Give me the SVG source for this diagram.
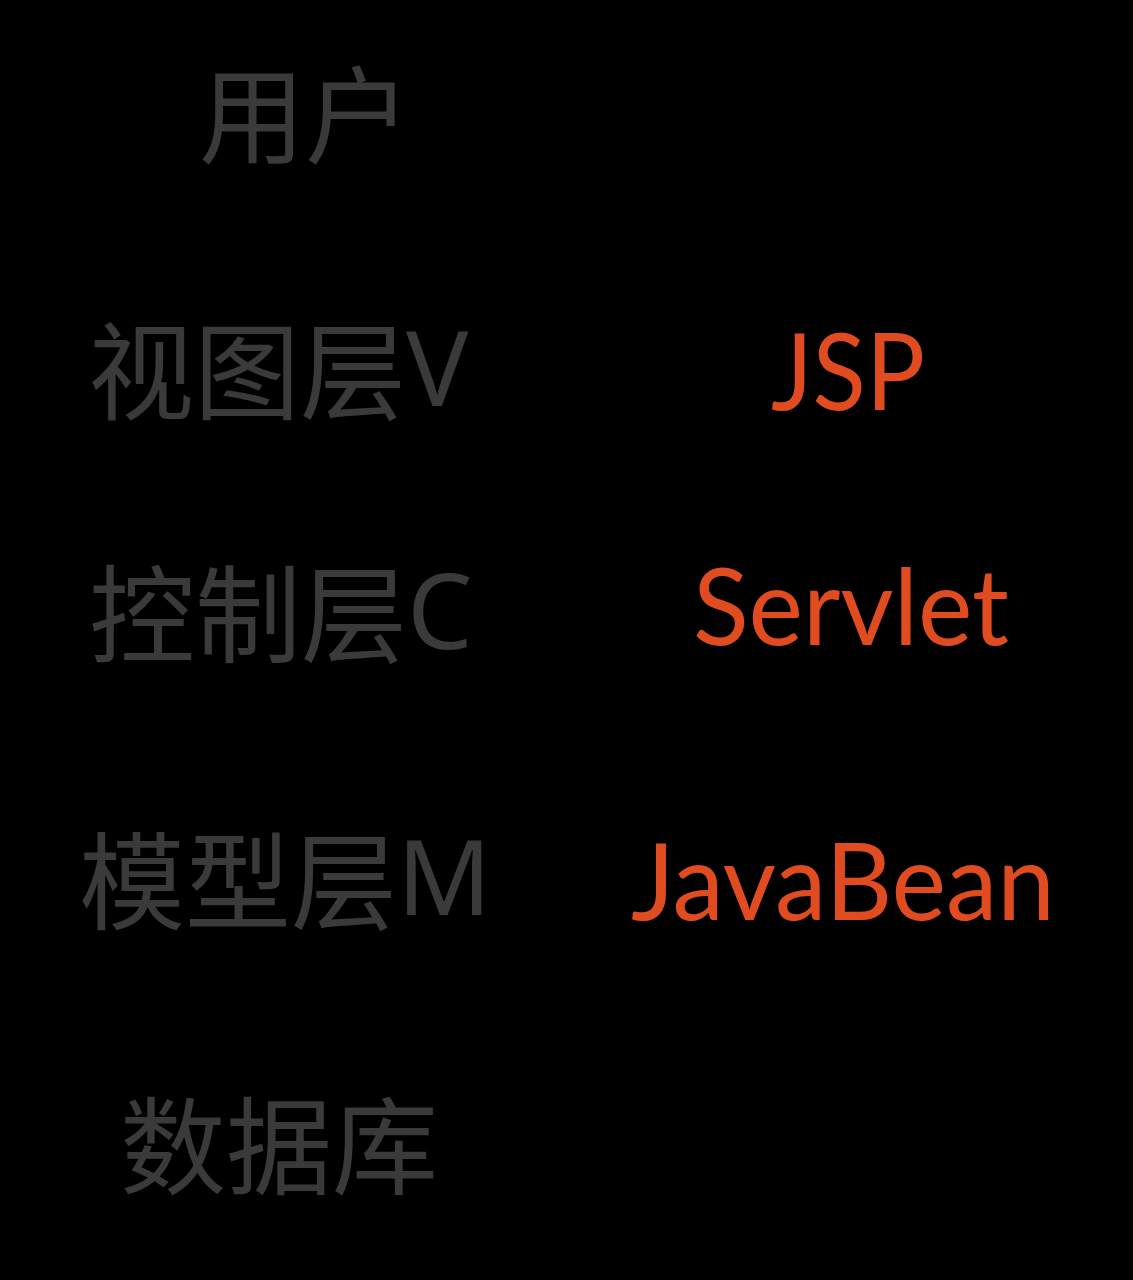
<svg xmlns="http://www.w3.org/2000/svg" width="1133" height="1280" viewBox="0 0 1133 1280">
<style>
.cn{font-family:"Noto Sans CJK SC","Noto Sans",sans-serif;font-size:106px;fill:#3a3a3a}
.lat{font-family:"Noto Sans","Open Sans",sans-serif;font-size:104px}
.en{font-family:Lato,"Noto Sans",sans-serif;font-size:106px;fill:#e04b20}
</style>
<rect width="1133" height="1280" fill="#000"/>
<g id="user"><text class="cn" x="199" y="155">用户</text></g>
<g id="view"><text class="cn" x="88" y="411">视图层<tspan class="lat" y="406">V</tspan></text></g>
<g id="jsp"><text class="en" x="771" y="410" textLength="154" lengthAdjust="spacingAndGlyphs">JSP</text></g>
<g id="ctrl"><text class="cn" x="89" y="654">控制层<tspan class="lat" y="649">C</tspan></text></g>
<g id="servlet"><text class="en" x="693" y="645" textLength="316" lengthAdjust="spacingAndGlyphs">Servlet</text></g>
<g id="model"><text class="cn" x="79" y="921">模型层<tspan class="lat" y="915">M</tspan></text></g>
<g id="javabean"><text class="en" x="631" y="920" textLength="424" lengthAdjust="spacingAndGlyphs">JavaBean</text></g>
<g id="db"><text class="cn" x="120" y="1186">数据库</text></g>
<g id="connectors"></g>
</svg>
